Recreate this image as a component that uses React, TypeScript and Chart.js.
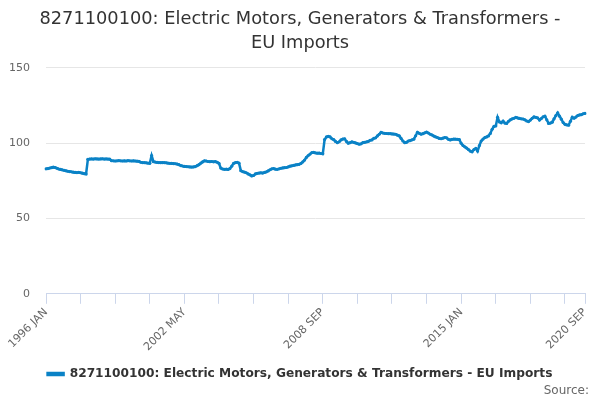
import React, { useEffect, useRef } from "react";
import { Chart, registerables } from "chart.js";

Chart.register(...registerables);

const MONTHS = ["JAN", "FEB", "MAR", "APR", "MAY", "JUN", "JUL", "AUG", "SEP", "OCT", "NOV", "DEC"];
const START_YEAR = 1996;
const SHOWN_LABELS = ["1996 JAN", "2002 MAY", "2008 SEP", "2015 JAN", "2020 SEP"];
const Y_TICKS = [0, 50, 100, 150];

const SERIES_NAME = "8271100100: Electric Motors, Generators & Transformers - EU Imports";
const TITLE_LINES = ["8271100100: Electric Motors, Generators & Transformers -", "EU Imports"];

const values: number[] = [
  // 1996
  83, 83.2, 83.5, 83.8, 84.1, 83.9, 83.4, 82.9, 82.6, 82.3, 82, 81.7,
  // 1997
  81.4, 81.2, 81, 80.8, 80.6, 80.5, 80.7, 80.4, 80.1, 79.8, 79.6, 89.3,
  // 1998
  89.5, 89.6, 89.5, 89.7, 89.6, 89.5, 89.6, 89.7, 89.5, 89.6, 89.5, 89.4,
  // 1999
  88.4, 88.3, 88.2, 88.3, 88.4, 88.3, 88.2, 88.3, 88.2, 88.4, 88.3, 88.2,
  // 2000
  88.3, 88.2, 88.1, 88, 87.4, 87.2, 87.1, 87, 86.8, 86.7, 91.8, 87.8,
  // 2001
  87.5, 87.3, 87.2, 87.1, 87.2, 87.1, 87, 86.8, 86.7, 86.6, 86.5, 86.4,
  // 2002
  86.2, 85.8, 85.2, 84.9, 84.6, 84.5, 84.4, 84.3, 84.2, 84.3, 84.5, 85.1,
  // 2003
  85.8, 86.8, 87.6, 88.3, 88.2, 87.9, 87.8, 87.9, 87.7, 87.8, 87.4, 86.6,
  // 2004
  83.5, 82.9, 82.7, 82.8, 82.6, 83.2, 84.8, 86.6, 87.1, 87.4, 86.8, 81.8,
  // 2005
  81.2, 80.8, 80.4, 79.6, 79, 78.3, 78.6, 79.6, 80, 80.2, 80.4, 80.2,
  // 2006
  80.6, 81, 81.6, 82.4, 83, 83.2, 82.8, 82.7, 83, 83.4, 83.6, 83.8,
  // 2007
  83.9, 84.3, 84.8, 85, 85.3, 85.6, 85.8, 86, 86.6, 87.6, 88.8, 90.6,
  // 2008
  91.8, 92.8, 93.8, 93.9, 93.6, 93.4, 93.5, 93.2, 93, 102.5, 104.2, 104.6,
  // 2009
  104.2, 103, 102.4, 101.2, 100.4, 101, 102.2, 102.8, 103, 101.2, 100, 100.4,
  // 2010
  100.9, 100.6, 100.2, 99.8, 99.4, 99.6, 100.4, 100.6, 100.9, 101.2, 102, 102.2,
  // 2011
  103.3, 103.6, 104.9, 106, 107.3, 106.8, 106.6, 106.5, 106.4, 106.4, 106.2, 106.1,
  // 2012
  106, 105.4, 104.9, 103.2, 101.5, 100.4, 100.6, 101.5, 101.8, 102.3, 102.7, 105,
  // 2013
  107.3, 106.6, 106, 106.4, 106.9, 107.4, 106.8, 106, 105.5, 104.8, 104.2, 103.8,
  // 2014
  103.2, 103, 103.4, 103.8, 103.6, 102.6, 102.2, 102.6, 102.8, 102.7, 102.6, 102.4,
  // 2015
  100, 98.5, 97.6, 96.8, 95.8, 94.8, 94.3, 95.8, 96.6, 94.8, 98.5, 101.5,
  // 2016
  102.8, 103.8, 104.2, 104.9, 106.5, 109.3, 111.2, 111.5, 117.2, 114.2, 113.6, 114.8,
  // 2017
  113.4, 113.2, 114.6, 115.6, 116.2, 116.6, 117.2, 116.8, 116.5, 116.2, 116.1, 115.6,
  // 2018
  114.8, 114.4, 115.4, 116.6, 117.5, 117.2, 116.8, 115.4, 116.4, 117.6, 118, 115.6,
  // 2019
  113.2, 113.4, 114, 116.2, 118.4, 120.2, 118, 116, 113.8, 112.6, 112.2, 112,
  // 2020
  114.6, 117.3, 116.6, 117.4, 118.4, 118.8, 119, 119.6, 119.8,
];

const categories: string[] = values.map(
  (_, i) => `${START_YEAR + Math.floor(i / 12)} ${MONTHS[i % 12]}`
);

const FONT = "'DejaVu Sans', sans-serif";
const LINE_COLOR = "#0a82c6";

export default function App() {
  const canvasRef = useRef<HTMLCanvasElement | null>(null);

  useEffect(() => {
    if (!canvasRef.current) return;
    const last = categories.length - 1;
    const sourcePlugin = {
      id: "sourceText",
      afterDraw(chart: any) {
        const ctx = chart.ctx;
        ctx.save();
        ctx.font = `12px ${FONT}`;
        ctx.fillStyle = "#666666";
        ctx.textAlign = "right";
        ctx.textBaseline = "alphabetic";
        ctx.fillText("Source:", 589, 394);
        ctx.restore();
      },
    };
    const chart = new Chart(canvasRef.current, {
      type: "line",
      data: {
        labels: categories,
        datasets: [
          {
            label: SERIES_NAME,
            data: values,
            yAxisID: "y",
            borderColor: LINE_COLOR,
            backgroundColor: LINE_COLOR,
            borderWidth: 2.5,
            pointRadius: 1.6,
            pointBorderWidth: 0,
            pointHoverRadius: 0,
            tension: 0,
            fill: false,
          },
        ],
      },
      options: {
        animation: false,
        responsive: false,
        devicePixelRatio: 1,
        layout: { padding: { left: 0, right: 0, top: 0, bottom: 10 } },
        plugins: {
          title: {
            display: true,
            text: TITLE_LINES,
            color: "#333333",
            font: { family: FONT, size: 17.8, weight: "normal", lineHeight: 1.32 },
            padding: { top: 8, bottom: 13 },
          },
          legend: {
            display: true,
            position: "bottom",
            labels: {
              color: "#333333",
              font: { family: FONT, size: 12.2, weight: "bold" },
              boxWidth: 16,
              boxHeight: 2,
              padding: 10,
            },
          },
          tooltip: { enabled: false },
        },
        scales: {
          x: {
            type: "category",
            offset: false,
            border: { display: true, color: "#ccd6eb", width: 1 },
            grid: {
              drawOnChartArea: false,
              drawTicks: true,
              tickLength: 10,
              tickColor: (ctx: any) =>
                ctx.index % 19 === 0 || ctx.index === last ? "#ccd6eb" : "rgba(0,0,0,0)",
            },
            ticks: {
              autoSkip: false,
              minRotation: 45,
              maxRotation: 45,
              padding: 2,
              color: "#666666",
              font: { family: FONT, size: 11 },
              callback: (_v: any, i: number) =>
                SHOWN_LABELS.includes(categories[i]) ? categories[i] : "",
            },
            afterFit: (scale: any) => {
              scale.height = 64;
            },
          },
          y: {
            position: "left",
            min: 0,
            max: 150,
            border: { display: false },
            grid: { color: "#e6e6e6", drawTicks: false },
            ticks: {
              stepSize: 50,
              padding: 16,
              color: "#666666",
              font: { family: FONT, size: 11 },
              callback: (v: any) => (Y_TICKS.includes(Number(v)) ? String(v) : ""),
            },
            afterFit: (scale: any) => {
              scale.width = 46;
            },
          },
          spacer: {
            type: "linear",
            position: "right",
            display: true,
            min: 0,
            max: 1,
            border: { display: false },
            grid: { display: false, drawTicks: false },
            ticks: { display: false },
            afterFit: (scale: any) => {
              scale.width = 15;
            },
          },
        },
      },
      plugins: [sourcePlugin],
    });
    return () => chart.destroy();
  }, []);

  return (
    <div style={{ position: "absolute", left: 0, top: 0, width: 600, height: 400, background: "#fff" }}>
      <canvas ref={canvasRef} width={600} height={400} />
    </div>
  );
}
